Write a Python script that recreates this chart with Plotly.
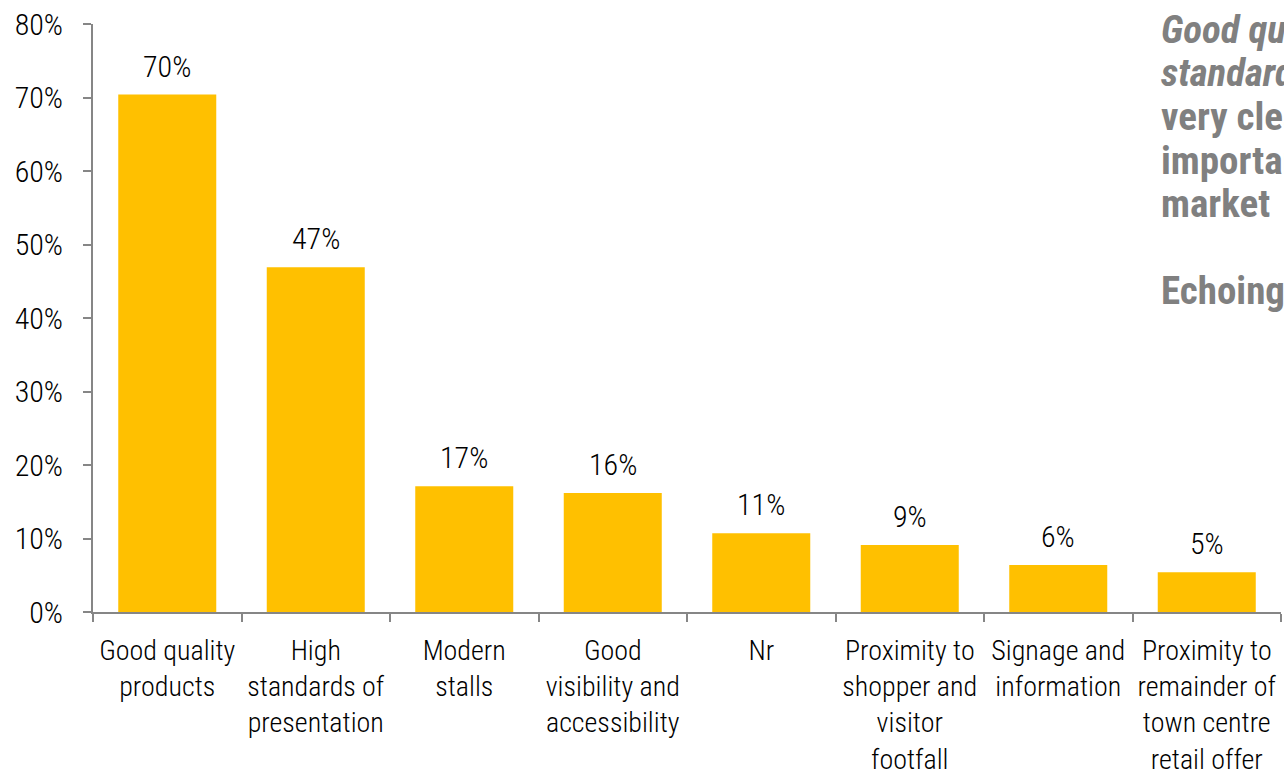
import plotly.graph_objects as go

# Survey results: what makes a good market
categories = [
    "Good quality<br>products",
    "High<br>standards of<br>presentation",
    "Modern<br>stalls",
    "Good<br>visibility and<br>accessibility",
    "Nr",
    "Proximity to<br>shopper and<br>visitor<br>footfall",
    "Signage and<br>information",
    "Proximity to<br>remainder of<br>town centre<br>retail offer",
]
shares = [0.704, 0.469, 0.171, 0.162, 0.107, 0.091, 0.064, 0.054]
y_ticks = [0, 0.1, 0.2, 0.3, 0.4, 0.5, 0.6, 0.7, 0.8]

side_lines = [
    "<b><i>Good quality products and high</i></b>",
    "<b><i>standards of presentation</i></b>",
    "<b>very clearly the most</b>",
    "<b>important features of a</b>",
    "<b>market</b>",
    "",
    "<b>Echoing the views of</b>",
]

FONT = "Liberation Sans Narrow, Arial Narrow, Roboto Condensed, sans-serif"
BAR = "#FFC000"
AXIS = "#868686"

W, H = 1284, 774
L, R, T, B = 93, 3, 24, 162
PW, PH = W - L - R, H - T - B


def px_to_paper(x, y):
    return (x - L) / PW, 1 - (y - T) / PH


fig = go.Figure(
    go.Bar(
        x=categories,
        y=shares,
        marker=dict(color=BAR, line=dict(width=0)),
        hoverinfo="skip",
    )
)

# value labels above each bar
for c, v in zip(categories, shares):
    fig.add_annotation(
        x=c, y=v, xref="x", yref="y",
        text=f"{v:.0%}", showarrow=False,
        yanchor="bottom", yshift=9,
        font=dict(family=FONT, size=30, color="#000000", weight=300),
    )

# commentary text running off the right edge
for i, line in enumerate(side_lines):
    if not line:
        continue
    xp, yp = px_to_paper(1159, 30 + 43.5 * i)
    fig.add_annotation(
        x=xp, y=yp, xref="paper", yref="paper",
        text=line, showarrow=False, xanchor="left", yanchor="middle",
        font=dict(family=FONT, size=39, color="#808080"),
    )

fig.update_layout(
    width=W, height=H,
    margin=dict(l=L, r=R, t=T, b=B),
    paper_bgcolor="white", plot_bgcolor="white",
    bargap=0.34,
    showlegend=False,
    font=dict(family=FONT, size=28, color="#000000", weight=300),
)
fig.update_xaxes(
    type="category", tickson="boundaries", tickangle=0, automargin=False,
    showline=True, linecolor=AXIS, linewidth=2,
    ticks="outside", ticklen=8, tickwidth=2, tickcolor=AXIS,
    ticklabelstandoff=12,
    showgrid=False, tickfont=dict(family=FONT, size=28, color="#000000", weight=300),
)
fig.update_yaxes(
    range=[0, 0.8], tickvals=y_ticks, tickformat=".0%", automargin=False,
    showline=True, linecolor=AXIS, linewidth=2,
    ticks="outside", ticklen=8, tickwidth=2, tickcolor=AXIS,
    ticklabelstandoff=14,
    showgrid=False, zeroline=False,
    tickfont=dict(family=FONT, size=30, color="#000000", weight=300),
)

fig.write_html("out.html")
